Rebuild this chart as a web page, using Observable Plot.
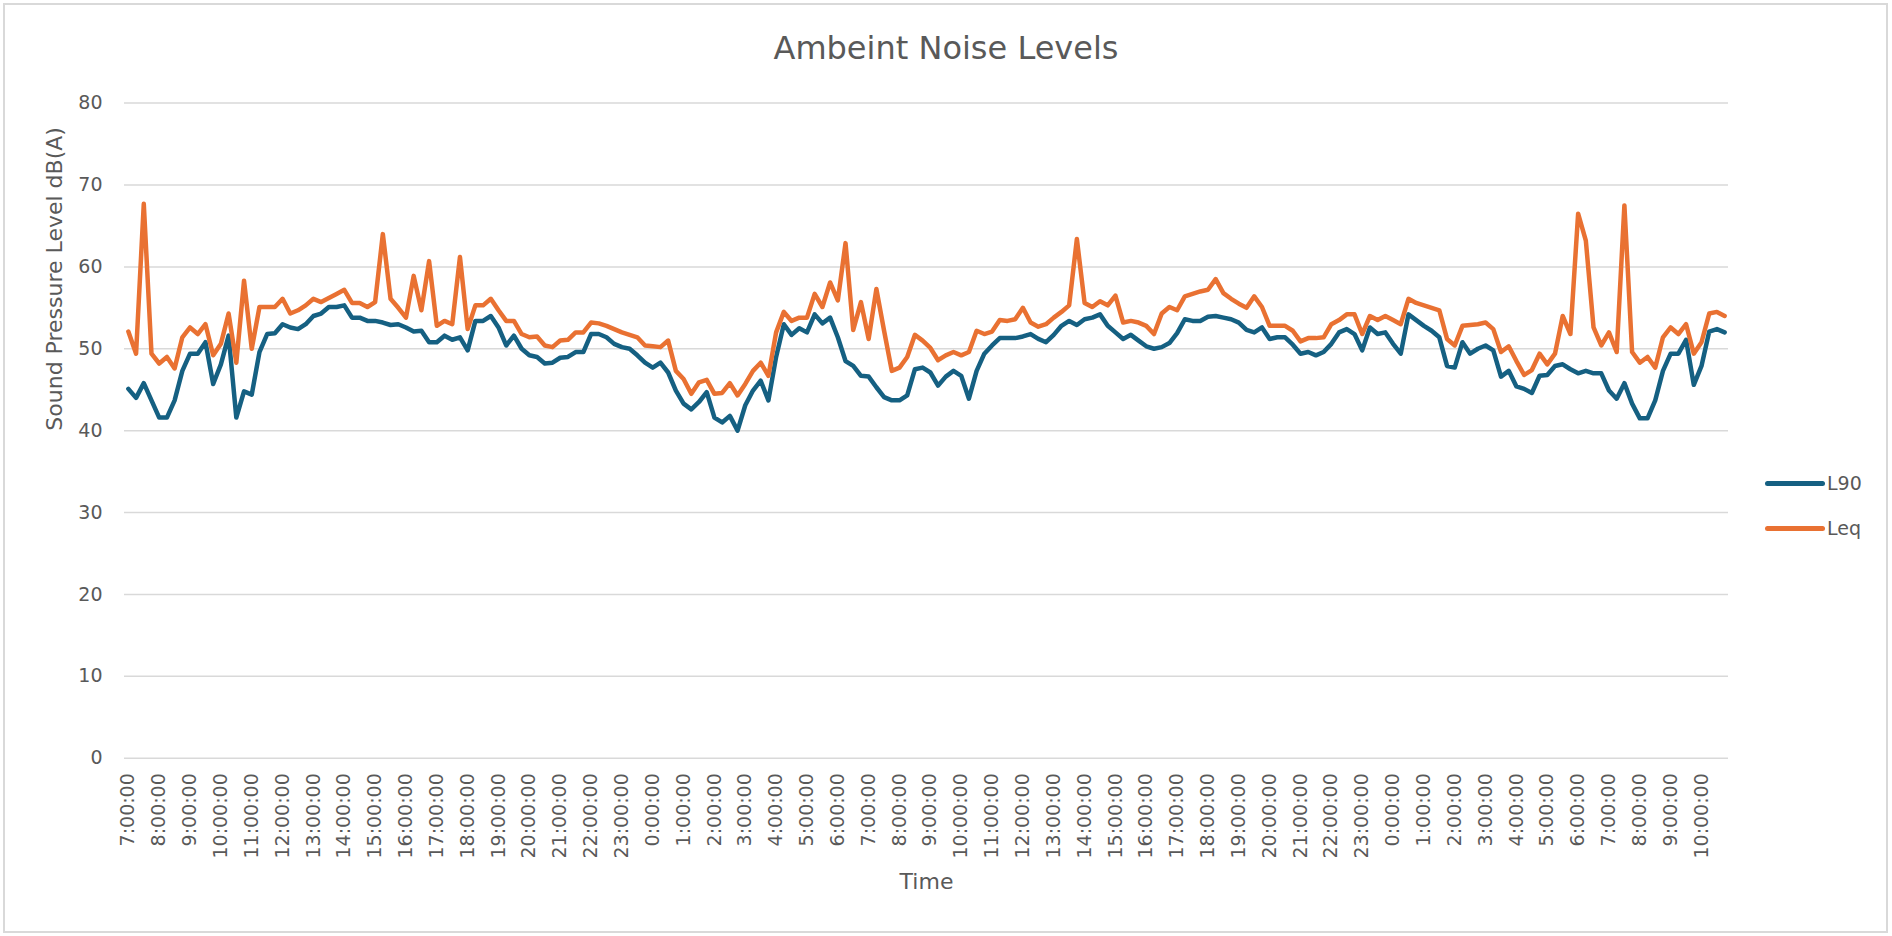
<!DOCTYPE html>
<html>
<head>
<meta charset="utf-8">
<script src="https://cdn.jsdelivr.net/npm/d3@7"></script>
<script src="https://cdn.jsdelivr.net/npm/@observablehq/plot@0.6"></script>
<style>
  html, body { margin: 0; padding: 0; background: #ffffff; }
  #chart { position: relative; width: 1892px; height: 936px; font-family: "DejaVu Sans", sans-serif; color: #595959; overflow: hidden; }
  #border { position: absolute; left: 3px; top: 3px; width: 1885px; height: 930px; box-sizing: border-box; border: 2px solid #d9d9d9; pointer-events: none; }
  #title { position: relative; height: 80px; box-sizing: border-box; padding-top: 32px; width: 1892px; text-align: center; font-size: 32px; line-height: 32px; color: #595959; }
  .legend-item { position: absolute; left: 1765px; height: 20px; }
  .legend-swatch { position: absolute; width: 60px; height: 5px; border-radius: 2.5px; }
  .legend-label { position: absolute; font-size: 19px; line-height: 19px; color: #595959; white-space: nowrap; }
</style>
</head>
<body>
<div id="chart">
  <div id="title">Ambeint Noise Levels</div>
  <div id="plot"></div>
  <div id="legend"></div>
  <div id="border"></div>
</div>
<script>
// Hour labels shown on the category axis (one every 4 quarter-hour points)
const hourLabels = [
  "7:00:00","8:00:00","9:00:00","10:00:00","11:00:00","12:00:00","13:00:00","14:00:00",
  "15:00:00","16:00:00","17:00:00","18:00:00","19:00:00","20:00:00","21:00:00","22:00:00","23:00:00",
  "0:00:00","1:00:00","2:00:00","3:00:00","4:00:00","5:00:00","6:00:00","7:00:00","8:00:00",
  "9:00:00","10:00:00","11:00:00","12:00:00","13:00:00","14:00:00","15:00:00","16:00:00","17:00:00",
  "18:00:00","19:00:00","20:00:00","21:00:00","22:00:00","23:00:00",
  "0:00:00","1:00:00","2:00:00","3:00:00","4:00:00","5:00:00","6:00:00","7:00:00","8:00:00",
  "9:00:00","10:00:00"
];

// L90 (dB(A)), 15-minute samples
const L90 = [
  45.1,44.0,45.8,43.7,41.6,41.6,43.7,47.3,49.4,49.4,50.8,45.7,48.1,51.6,41.6,44.8,
  44.4,49.6,51.8,51.9,53.0,52.6,52.4,53.0,54.0,54.3,55.1,55.1,55.3,53.8,53.8,53.4,
  53.4,53.2,52.9,53.0,52.6,52.1,52.2,50.8,50.8,51.6,51.1,51.4,49.8,53.4,53.4,54.0,
  52.6,50.4,51.6,50.0,49.2,49.0,48.2,48.3,48.9,49.0,49.6,49.6,51.8,51.8,51.4,50.6,
  50.2,50.0,49.2,48.3,47.7,48.3,47.1,44.9,43.3,42.6,43.5,44.7,41.6,41.0,41.8,40.0,
  43.1,44.9,46.1,43.7,49.0,53.0,51.7,52.5,52.0,54.2,53.1,53.8,51.4,48.5,47.9,46.7,
  46.6,45.3,44.1,43.7,43.7,44.3,47.5,47.7,47.1,45.5,46.6,47.3,46.7,43.9,47.3,49.4,
  50.4,51.3,51.3,51.3,51.5,51.8,51.2,50.8,51.7,52.8,53.4,52.9,53.6,53.8,54.2,52.8,
  52.0,51.2,51.7,51.0,50.3,50.0,50.2,50.7,51.9,53.6,53.4,53.4,53.9,54.0,53.8,53.6,
  53.2,52.3,52.0,52.6,51.2,51.4,51.4,50.5,49.4,49.6,49.2,49.6,50.6,52.0,52.4,51.8,
  49.8,52.6,51.8,52.0,50.6,49.4,54.2,53.5,52.8,52.2,51.4,47.9,47.7,50.8,49.4,50.0,
  50.4,49.8,46.6,47.3,45.4,45.1,44.6,46.7,46.8,47.9,48.1,47.5,47.0,47.3,47.0,47.0,
  44.9,43.9,45.8,43.3,41.5,41.5,43.7,47.3,49.4,49.4,51.1,45.6,47.9,52.1,52.4,52.0
];

// Leq (dB(A)), 15-minute samples
const Leq = [
  52.1,49.4,67.7,49.4,48.2,49.0,47.6,51.4,52.6,51.8,53.0,49.2,50.6,54.3,48.3,58.3,
  50.0,55.1,55.1,55.1,56.1,54.3,54.7,55.3,56.1,55.7,56.2,56.7,57.2,55.6,55.6,55.1,
  55.7,64.0,56.1,55.0,53.8,58.9,54.7,60.7,52.8,53.4,53.0,61.2,52.4,55.3,55.3,56.1,
  54.7,53.4,53.4,51.8,51.4,51.5,50.4,50.2,51.0,51.1,52.0,52.0,53.2,53.1,52.8,52.4,
  52.0,51.7,51.4,50.4,50.3,50.2,51.0,47.3,46.3,44.5,45.9,46.2,44.5,44.6,45.8,44.3,
  45.7,47.3,48.3,46.7,52.0,54.5,53.4,53.8,53.8,56.7,55.1,58.1,55.9,62.9,52.3,55.7,
  51.2,57.3,52.2,47.3,47.7,49.0,51.7,51.0,50.1,48.6,49.2,49.6,49.2,49.6,52.2,51.8,
  52.1,53.5,53.4,53.6,55.0,53.2,52.7,53.0,53.8,54.5,55.3,63.4,55.6,55.1,55.8,55.3,
  56.5,53.2,53.4,53.2,52.8,51.8,54.3,55.1,54.7,56.4,56.7,57.0,57.2,58.5,56.8,56.1,
  55.5,55.0,56.4,55.1,52.8,52.8,52.8,52.2,50.9,51.3,51.3,51.4,53.0,53.5,54.2,54.2,
  51.8,54.0,53.5,54.0,53.5,53.0,56.1,55.6,55.3,55.0,54.7,51.2,50.4,52.8,52.9,53.0,
  53.2,52.4,49.6,50.3,48.5,46.8,47.4,49.4,48.1,49.4,54.0,51.8,66.5,63.2,52.6,50.4,
  52.0,49.6,67.5,49.6,48.3,49.0,47.7,51.4,52.6,51.8,53.0,49.4,50.8,54.3,54.5,54.0
];

const seriesNames = ["L90", "Leq"];
const seriesColors = ["#156082", "#E97132"];
const yTicks = [0, 10, 20, 30, 40, 50, 60, 70, 80];
const yTitle = "Sound Pressure Level dB(A)";
const xTitle = "Time";

// table built from the arrays above
const rows = [];
[L90, Leq].forEach((arr, s) => arr.forEach((v, i) => rows.push({i, series: seriesNames[s], value: v})));
const tickIndex = hourLabels.map((_, k) => k * 4);

const plot = Plot.plot({
  width: 1892,
  height: 856,
  marginLeft: 124,
  marginRight: 164,
  marginTop: 22.6,
  marginBottom: 178.3,
  style: {fontFamily: "'DejaVu Sans', sans-serif", fontSize: "19px", color: "#595959", background: "transparent", overflow: "visible"},
  x: {domain: [-0.5, L90.length - 0.5]},
  y: {domain: [0, 80]},
  color: {domain: seriesNames, range: seriesColors},
  marks: [
    Plot.gridY(yTicks, {stroke: "#d9d9d9", strokeOpacity: 1, strokeWidth: 1.5}),
    Plot.axisY(yTicks, {tickSize: 0, tickPadding: 22, label: null, fontSize: 19, fill: "#595959"}),
    Plot.axisX(tickIndex, {tickSize: 0, tickPadding: 15, tickRotate: -90, label: null, fontSize: 19, fill: "#595959",
      tickFormat: i => hourLabels[i / 4]}),
    Plot.line(rows, {x: "i", y: "value", z: "series", stroke: "series", strokeWidth: 4.5,
      strokeLinejoin: "round", strokeLinecap: "round"}),
    Plot.text([yTitle], {text: d => d, frameAnchor: "left", dx: -70, rotate: -90, fontSize: 22, fill: "#595959"}),
    Plot.text([xTitle], {text: d => d, frameAnchor: "bottom", dy: 131, fontSize: 22, fill: "#595959"})
  ]
});
document.getElementById("plot").appendChild(plot);

// legend
const legend = document.getElementById("legend");
const legendY = [483.3, 528.3];
seriesNames.forEach((name, s) => {
  const sw = document.createElement("div");
  sw.className = "legend-swatch";
  sw.style.left = "1765px";
  sw.style.top = (legendY[s] - 2.5) + "px";
  sw.style.background = seriesColors[s];
  legend.appendChild(sw);
  const lb = document.createElement("div");
  lb.className = "legend-label";
  lb.style.left = "1827px";
  lb.style.top = (legendY[s] - 9.2) + "px";
  lb.textContent = name;
  legend.appendChild(lb);
});
legend.style.position = "absolute";
legend.style.left = "0";
legend.style.top = "0";
</script>
</body>
</html>
